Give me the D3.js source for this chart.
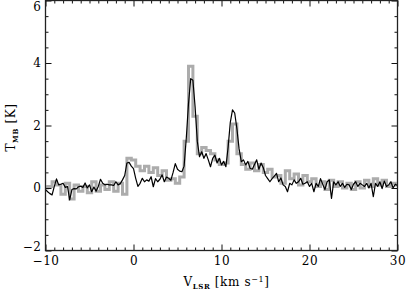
<!DOCTYPE html>
<html lang="en">
<head>
<meta charset="UTF-8">
<title>Spectrum</title>
<script src="https://d3js.org/d3.v7.min.js"></script>
<style>
  body { margin: 0; background: #fff; }
  svg text { font-family: 'DejaVu Serif', serif; fill: #000; }
</style>
</head>
<body>
<script>
// channel grid of the two spectra (km/s)
const blackStart = -10, blackStep = 0.25;
const grayStart = -10, grayStep = 0.5;

// black spectrum, T_MB [K], one value per 0.25 km/s channel
const blackT = [
  -0.05, -0.12, -0.18, -0.22, 0.05, 0.29, 0.10, 0.12,
  0.15, 0.02, 0.05, -0.38, -0.05, -0.02, -0.03, 0.04,
  0.06, 0.02, 0.16, 0.00, 0.10, -0.12, 0.03, -0.10,
  0.05, 0.28, 0.15, 0.10, 0.12, 0.10, 0.10, 0.08,
  0.20, 0.10, 0.14, 0.26, 0.40, 0.80, 0.82, 0.70,
  0.62, 0.31, 0.05, 0.15, 0.31, 0.20, 0.26, 0.22,
  0.36, 0.04, 0.30, 0.20, 0.28, 0.42, 0.20, 0.35,
  0.31, 0.25, 0.50, 0.78, 0.60, 0.54, 0.52, 0.70,
  1.60, 2.70, 3.50, 3.45, 2.60, 1.50, 1.00, 1.16,
  0.95, 1.10, 0.90, 0.68, 0.95, 1.05, 0.80, 0.95,
  0.74, 0.85, 0.68, 1.30, 2.10, 2.50, 2.40, 1.90,
  1.25, 0.84, 0.90, 0.74, 0.85, 0.63, 0.60, 0.75,
  0.90, 0.60, 0.80, 0.65, 0.40, 0.30, 0.20, 0.30,
  0.38, 0.47, 0.20, 0.32, 0.10, 0.05, -0.12, 0.15,
  0.10, 0.26, 0.15, 0.20, 0.31, 0.12, 0.15, 0.20,
  0.05, 0.15, -0.12, 0.15, 0.05, 0.30, 0.12, -0.05,
  0.20, 0.26, -0.33, 0.20, 0.10, 0.20, 0.05, 0.15,
  0.02, 0.12, 0.10, -0.05, 0.12, 0.20, 0.05, 0.15,
  0.10, 0.05, 0.15, 0.00, 0.15, -0.28, 0.15, 0.05,
  0.20, -0.02, 0.22, 0.05, 0.10, 0.20, 0.00, 0.12,
  0.08
];

// grey histogram spectrum, T_MB [K], one value per 0.5 km/s channel
const grayT = [
  0.00, 0.05, 0.20, 0.10, -0.20, 0.15, -0.35, 0.10, -0.10, 0.05,
  -0.15, 0.20, -0.10, 0.10, -0.05, 0.20, -0.10, 0.15, -0.20, 0.95,
  0.90, 0.70, 0.55, 0.70, 0.50, 0.65, 0.40, 0.55, 0.25, 0.30,
  0.15, 0.35, 1.50, 3.90, 2.30, 1.10, 1.30, 1.20, 1.10, 0.90,
  0.75, 0.80, 1.50, 2.05, 1.10, 0.75, 0.60, 0.80, 0.55, 0.75,
  0.50, 0.60, 0.35, 0.40, 0.15, 0.55, 0.30, 0.45, 0.10, 0.40,
  0.20, 0.30, 0.05, 0.20, -0.05, 0.25, 0.05, 0.20, 0.00, 0.15,
  -0.05, 0.20, 0.00, 0.25, 0.05, 0.30, 0.10, 0.25, 0.05, 0.15,
  0.10
];

const xDomain = [-10, 30], yDomain = [-2, 6];
const xMajor = [-10, 0, 10, 20, 30];
const yMajor = [-2, 0, 2, 4, 6];

const width = 406, height = 293;
const plotLeft = 45.5, plotRight = 397.5, plotTop = 0.5, plotBottom = 250.5;

const x = d3.scaleLinear().domain(xDomain).range([plotLeft, plotRight]);
const y = d3.scaleLinear().domain(yDomain).range([plotBottom, plotTop]);

const svg = d3.select('body').append('svg')
  .attr('width', width)
  .attr('height', height);

svg.append('clipPath').attr('id', 'plotclip')
  .append('rect')
  .attr('x', plotLeft).attr('y', plotTop)
  .attr('width', plotRight - plotLeft).attr('height', plotBottom - plotTop);

const plot = svg.append('g').attr('clip-path', 'url(#plotclip)');

// grey spectrum as histogram steps
plot.append('path')
  .datum(grayT)
  .attr('fill', 'none')
  .attr('stroke', '#acacac')
  .attr('stroke-width', 3)
  .attr('d', d3.line()
    .x((d, i) => x(grayStart + i * grayStep))
    .y(d => y(d))
    .curve(d3.curveStep));

// black spectrum
plot.append('path')
  .datum(blackT)
  .attr('fill', 'none')
  .attr('stroke', '#000')
  .attr('stroke-width', 1.2)
  .attr('stroke-linejoin', 'round')
  .attr('d', d3.line()
    .x((d, i) => x(blackStart + i * blackStep))
    .y(d => y(d)));

// axes, ticks pointing inward on all four sides
const xMinor = d3.range(xDomain[0], xDomain[1] + 0.001, 1).filter(v => !xMajor.includes(v));
const yMinor = d3.range(yDomain[0], yDomain[1] + 0.001, 0.5).filter(v => !yMajor.includes(v));

const axisStyle = g => {
  g.select('.domain').remove();
  g.selectAll('line').attr('stroke', '#111').attr('stroke-width', 1);
  g.selectAll('text').style('font-size', '12px').style('letter-spacing', '0.5px');
};

svg.append('g')
  .attr('transform', `translate(0,${plotBottom})`)
  .call(d3.axisBottom(x).tickValues(xMajor).tickSize(-6).tickPadding(5).tickFormat(d3.format('d')))
  .call(axisStyle)
  .call(g => g.selectAll('text').attr('dy', '0.78em'));
svg.append('g')
  .attr('transform', `translate(0,${plotBottom})`)
  .call(d3.axisBottom(x).tickValues(xMinor).tickSize(-3).tickFormat(''))
  .call(axisStyle);
svg.append('g')
  .attr('transform', `translate(0,${plotTop})`)
  .call(d3.axisTop(x).tickValues(xMajor).tickSize(-6).tickFormat(''))
  .call(axisStyle);
svg.append('g')
  .attr('transform', `translate(0,${plotTop})`)
  .call(d3.axisTop(x).tickValues(xMinor).tickSize(-3).tickFormat(''))
  .call(axisStyle);

svg.append('g')
  .attr('transform', `translate(${plotLeft},0)`)
  .call(d3.axisLeft(y).tickValues(yMajor).tickSize(-6).tickPadding(4).tickFormat(d3.format('d')))
  .call(axisStyle)
  // the end labels are nudged inward, as in the original figure
  .call(g => g.selectAll('.tick text').filter(d => d === yDomain[1]).attr('dy', '0.85em'))
  .call(g => g.selectAll('.tick text').filter(d => d === yDomain[0]).attr('dy', '0em'));
svg.append('g')
  .attr('transform', `translate(${plotLeft},0)`)
  .call(d3.axisLeft(y).tickValues(yMinor).tickSize(-3).tickFormat(''))
  .call(axisStyle);
svg.append('g')
  .attr('transform', `translate(${plotRight},0)`)
  .call(d3.axisRight(y).tickValues(yMajor).tickSize(-6).tickFormat(''))
  .call(axisStyle);
svg.append('g')
  .attr('transform', `translate(${plotRight},0)`)
  .call(d3.axisRight(y).tickValues(yMinor).tickSize(-3).tickFormat(''))
  .call(axisStyle);

// frame
svg.append('rect')
  .attr('x', plotLeft).attr('y', plotTop)
  .attr('width', plotRight - plotLeft).attr('height', plotBottom - plotTop)
  .attr('fill', 'none')
  .attr('stroke', '#222')
  .attr('stroke-width', 1.3);

// axis titles
const xt = svg.append('text')
  .attr('x', (plotLeft + plotRight) / 2 + 5)
  .attr('y', 286)
  .attr('text-anchor', 'middle')
  .style('font-size', '12px')
  .style('letter-spacing', '0.6px');
xt.append('tspan').text('V');
xt.append('tspan').attr('dy', 3).style('font-size', '7px').style('font-weight', 'bold').text('LSR');
xt.append('tspan').attr('dy', -3).text(' [km s');
xt.append('tspan').attr('dy', -4).style('font-size', '8px').text('−1');
xt.append('tspan').attr('dy', 4).text(']');

const yt = svg.append('text')
  .attr('transform', `translate(15,${(plotTop + plotBottom) / 2 + 2}) rotate(-90)`)
  .attr('text-anchor', 'middle')
  .style('font-size', '12px')
  .style('letter-spacing', '0.6px');
yt.append('tspan').text('T');
yt.append('tspan').attr('dy', 3).style('font-size', '7px').style('font-weight', 'bold').text('MB');
yt.append('tspan').attr('dy', -3).text(' [K]');
</script>
</body>
</html>
